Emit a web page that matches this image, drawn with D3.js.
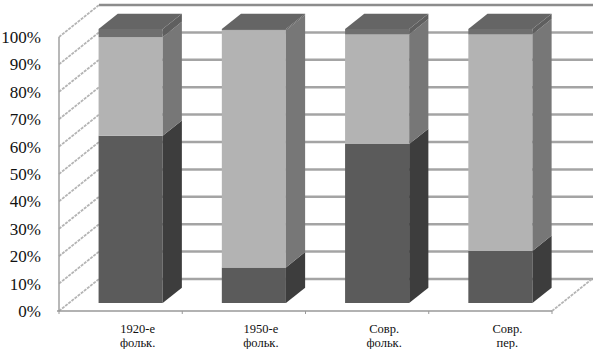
<!DOCTYPE html>
<html>
<head>
<meta charset="utf-8">
<script src="https://cdn.jsdelivr.net/npm/d3@7"></script>
<style>
  body { margin: 0; background: #fff; }
  svg { display: block; }
  text { font-family: "Liberation Serif", "Times New Roman", "DejaVu Serif", serif; }
</style>
</head>
<body>
<svg width="599" height="349"></svg>
<script>
// chart data (percent)
const categories = ["1920-е фольк.", "1950-е фольк.", "Совр. фольк.", "Совр. пер."];
const catLines = [["1920-е", "фольк."], ["1950-е", "фольк."], ["Совр.", "фольк."], ["Совр.", "пер."]];
const seriesBottom = [61, 13, 58, 19];
const seriesMiddle = [36, 86.5, 40, 79];
const seriesTop = [3, 0.5, 2, 2];
const yTicks = [0, 10, 20, 30, 40, 50, 60, 70, 80, 90, 100];

const svg = d3.select("svg");

// front plane scales, depth shifts things up/right
const y = d3.scaleLinear().domain([0, 100]).range([311, 37]);
const x = d3.scaleBand().domain(categories).range([59, 552])
  .paddingInner(0.48).paddingOuter(0.24);
const DX = 40, DY = 32;
const P = (px, py, f) => [px + DX * f, py - DY * f];
const poly = (pts) => "M" + pts.map(p => p.join(",")).join("L") + "Z";

// back wall gridlines
svg.selectAll("line.grid")
  .data(yTicks)
  .enter()
  .append("line")
  .attr("x1", 59 + DX).attr("x2", 552 + DX + 1)
  .attr("y1", d => y(d) - DY).attr("y2", d => y(d) - DY)
  .attr("stroke", d => d == 100 ? "#8c8c8c" : "#a4a4a4")
  .attr("stroke-width", 2.5);

// left wall diagonals
svg.selectAll("line.side")
  .data(yTicks)
  .enter()
  .append("line")
  .attr("x1", 59).attr("y1", d => y(d))
  .attr("x2", 59 + DX).attr("y2", d => y(d) - DY)
  .attr("stroke", "#b4b4b4")
  .attr("stroke-width", 1.8)
  .attr("stroke-dasharray", "3,1");

// left wall front edge
svg.append("line")
  .attr("x1", 59).attr("x2", 59)
  .attr("y1", y(100)).attr("y2", y(0))
  .attr("stroke", "#a0a0a0").attr("stroke-width", 1.5);

// floor
svg.append("line")
  .attr("x1", 552).attr("y1", y(0))
  .attr("x2", 552 + DX).attr("y2", y(0) - DY)
  .attr("stroke", "#b4b4b4").attr("stroke-width", 1.8)
  .attr("stroke-dasharray", "3,1");
svg.append("line")
  .attr("x1", 57).attr("x2", 552)
  .attr("y1", y(0)).attr("y2", y(0))
  .attr("stroke", "#999").attr("stroke-width", 1.5);
svg.selectAll("line.tick")
  .data(d3.range(categories.length + 1))
  .enter()
  .append("line")
  .attr("x1", i => 59 + x.step() * i).attr("x2", i => 59 + x.step() * i)
  .attr("y1", y(0)).attr("y2", y(0) + 3)
  .attr("stroke", "#999").attr("stroke-width", 1);

// bars
const series = [
  { values: seriesBottom, front: "#5b5b5b", side: "#3d3d3d", top: "#4c4c4c" },
  { values: seriesMiddle, front: "#b3b3b3", side: "#777777", top: "#8e8e8e" },
  { values: seriesTop, front: "#6f6f6f", side: "#5f5f5f", top: "#656565" },
];
const f0 = 0.25, f1 = 0.73;

categories.forEach((c, i) => {
  const g = svg.append("g");
  const xl = x(c), xr = x(c) + x.bandwidth();
  let base = 0;
  series.forEach((s, k) => {
    const v0 = base, v1 = base + s.values[i];
    base = v1;
    if (s.values[i] <= 0) return;
    // front face
    g.append("path")
      .attr("d", poly([P(xl, y(v0), f0), P(xr, y(v0), f0), P(xr, y(v1), f0), P(xl, y(v1), f0)]))
      .attr("fill", s.front);
    // right side face
    g.append("path")
      .attr("d", poly([P(xr, y(v0), f0), P(xr, y(v0), f1), P(xr, y(v1), f1), P(xr, y(v1), f0)]))
      .attr("fill", s.side);
    // top face on the highest segment
    if (k == series.length - 1 || series.slice(k + 1).every(t => t.values[i] <= 0)) {
      g.append("path")
        .attr("d", poly([P(xl, y(v1), f0), P(xr, y(v1), f0), P(xr, y(v1), f1), P(xl, y(v1), f1)]))
        .attr("fill", s.top);
    }
  });
});

// y axis labels
svg.selectAll("text.ylab")
  .data(yTicks)
  .enter()
  .append("text")
  .attr("x", 41)
  .attr("y", d => y(d))
  .attr("dy", "0.35em")
  .attr("text-anchor", "end")
  .attr("font-size", "17px")
  .attr("fill", "#111")
  .text(d => d + "%");

// category labels, one text per line
categories.forEach((c, i) => {
  catLines[i].forEach((line, j) => {
    svg.append("text")
      .attr("text-anchor", "middle")
      .attr("font-size", "12.5px")
      .attr("fill", "#111")
      .attr("x", x(c) + x.bandwidth() / 2 + 17)
      .attr("y", 333 + j * 13.5)
      .text(line);
  });
});
</script>
</body>
</html>
